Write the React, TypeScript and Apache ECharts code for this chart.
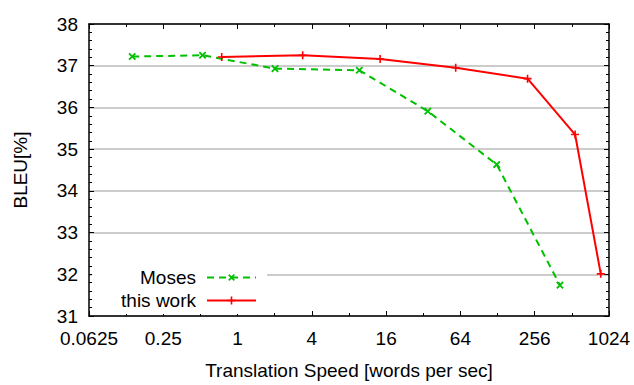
import React, { useEffect, useRef } from "react";
import * as echarts from "echarts";

const mosesSpeed = [0.14, 0.52, 2.01, 9.7, 34.8, 126, 410];
const mosesBleu = [37.22, 37.25, 36.93, 36.89, 35.91, 34.63, 31.74];
const oursSpeed = [0.744, 3.37, 14.3, 58.6, 224, 544, 878];
const oursBleu = [37.21, 37.25, 37.16, 36.95, 36.69, 35.35, 32.01];
const xTickExponents = [-4, 10]; // 0.0625 .. 1024, every factor of 4

const FONT = "Liberation Sans, Arial, Helvetica, sans-serif";
const FS = 19;
const PLUS = "path://M4,0H6V4H10V6H6V10H4V6H0V4H4Z";

function fmt(v: number) {
  const p = Math.pow(2, v);
  return String(+p.toPrecision(6));
}

export default function App() {
  const ref = useRef<HTMLDivElement>(null);
  useEffect(() => {
    document.body.style.margin = "0";
    const chart = echarts.init(ref.current!, null, { renderer: "svg" });
    const axisLine = { show: true, onZero: false, lineStyle: { color: "#000", width: 1.5 } };
    const xBase: any = {
      type: "value",
      min: xTickExponents[0],
      max: xTickExponents[1],
      interval: 2,
      axisLine,
      axisTick: { show: true, inside: true, length: 5, lineStyle: { color: "#000", width: 1 } },
      minorTick: { show: true, splitNumber: 2, length: 3, lineStyle: { color: "#000", width: 1 } },
      splitLine: { show: false },
    };
    const yBase: any = {
      type: "value",
      min: 31,
      max: 38,
      interval: 1,
      axisLine,
      axisTick: { show: true, inside: true, length: 5, lineStyle: { color: "#000", width: 1 } },
      minorTick: { show: true, splitNumber: 5, length: 3, lineStyle: { color: "#000", width: 1 } },
    };
    chart.setOption({
      animation: false,
      backgroundColor: "#fff",
      textStyle: { fontFamily: FONT },
      grid: { left: 89, right: 25, top: 24, bottom: 67 },
      legend: {
        orient: "vertical",
        align: "right",
        right: 634 - 267,
        top: 264,
        padding: [4, 10, 4, 29],
        backgroundColor: "#fff",
        itemWidth: 49,
        itemHeight: 10,
        itemGap: 4,
        textStyle: { fontFamily: FONT, fontSize: FS, color: "#000", padding: [0, 6, 0, 0] },
        data: ["Moses", "this work"],
      },
      xAxis: [
        {
          ...xBase,
          position: "bottom",
          name: "Translation Speed [words per sec]",
          nameLocation: "middle",
          nameGap: 45,
          nameTextStyle: { fontFamily: FONT, fontSize: FS, color: "#000" },
          axisLabel: {
            margin: 13,
            fontFamily: FONT,
            fontSize: FS,
            color: "#000",
            formatter: (v: number) => fmt(v),
          },
        },
        { ...xBase, position: "top", axisLabel: { show: false } },
      ],
      yAxis: [
        {
          ...yBase,
          position: "left",
          name: "BLEU[%]",
          nameLocation: "middle",
          nameGap: 59,
          nameTextStyle: { fontFamily: FONT, fontSize: FS, color: "#000" },
          axisLabel: { margin: 11, fontFamily: FONT, fontSize: FS, color: "#000" },
          splitLine: { show: true, lineStyle: { color: "#bbbbbb", width: 1.5 } },
        },
        { ...yBase, position: "right", axisLabel: { show: false }, splitLine: { show: false } },
      ],
      series: [
        {
          name: "Moses",
          type: "line",
          data: mosesSpeed.map((s, i) => [Math.log2(s), mosesBleu[i]]),
          symbol: PLUS,
          symbolRotate: 45,
          symbolSize: 9,
          showSymbol: true,
          color: "#00c000",
          lineStyle: { color: "#00c000", width: 2, type: [7, 5] },
          itemStyle: { color: "#00c000" },
        },
        {
          name: "this work",
          type: "line",
          data: oursSpeed.map((s, i) => [Math.log2(s), oursBleu[i]]),
          symbol: PLUS,
          symbolSize: 8,
          showSymbol: true,
          color: "#ff0000",
          lineStyle: { color: "#ff0000", width: 2 },
          itemStyle: { color: "#ff0000" },
        },
      ],
    });
    return () => chart.dispose();
  }, []);
  return <div ref={ref} style={{ width: 634, height: 385 }} />;
}
